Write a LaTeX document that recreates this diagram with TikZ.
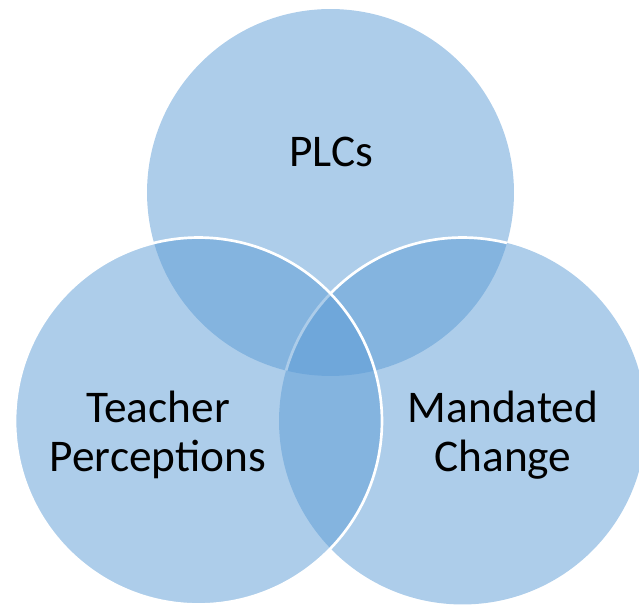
\documentclass[tikz,border=0pt]{standalone}
\usepackage{fontspec}
\setmainfont{Carlito}
\definecolor{vennblue}{HTML}{5B9BD5}
\begin{document}
\begin{tikzpicture}[x=0.75pt,y=-0.75pt,
  vennfill/.style={fill=vennblue,fill opacity=0.5},
  vennline/.style={draw=white,line width=2pt},
  venntext/.style={font=\fontsize{34}{37}\selectfont,align=center,text=black,anchor=base,inner sep=0pt}]
\useasboundingbox (0,0) rectangle (639,605);
\clip (0,0) rectangle (639,605);
% circle centres
\coordinate (ctop) at (330.5,192.5);
\coordinate (cleft) at (198.5,421);
\coordinate (cright) at (462.5,421);
% top circle (no visible rim)
\fill[vennfill] (ctop) circle[radius=137.6pt];
% right circle: rim shows only across the top circle
\fill[vennfill] (cright) circle[radius=137.6pt];
\begin{scope}
  \clip (ctop) circle[radius=137.6pt];
  \draw[vennline] (cright) circle[radius=137.6pt];
\end{scope}
% left circle with full white rim
\fill[vennfill] (cleft) circle[radius=137.6pt];
\draw[vennline] (cleft) circle[radius=137.6pt];
% labels (base anchor sits on the last line)
\node[venntext] (plcs) at (331,167) {PLCs};
\node[venntext] (teach) at (158,472) {Teacher\\Perceptions};
\node[venntext] (mand) at (503,472) {Mandated\\Change};
\end{tikzpicture}
\end{document}
